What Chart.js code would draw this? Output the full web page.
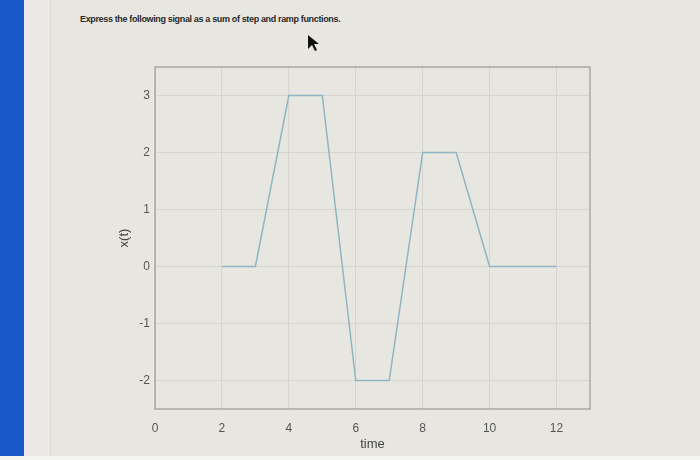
<!DOCTYPE html>
<html>
<head>
<meta charset="utf-8">
<script src="https://cdn.jsdelivr.net/npm/chart.js@4/dist/chart.umd.min.js"></script>
<style>
  html, body { margin: 0; padding: 0; }
  body { width: 700px; height: 460px; position: relative; overflow: hidden; background: #e8e6e1; }
  #bluebar { position: absolute; left: 0; top: 0; width: 24px; height: 460px; background: #1758c6; }
  #edge { position: absolute; left: 24px; top: 0; width: 26px; height: 460px; background: #eae9e5; border-right: 1px solid #dcdad5; }
  #bottom { position: absolute; left: 0; top: 456px; width: 700px; height: 4px; background: #f4f4f2; }
  #title { position: absolute; left: 80px; top: 14px; font: 600 9px "Liberation Sans", Arial, sans-serif; color: #2a2a2a; letter-spacing: -0.35px; }
  #cursor { position: absolute; left: 306px; top: 34px; }
  #wrap { position: absolute; left: 0; top: 0; width: 700px; height: 460px; }
</style>
</head>
<body>
<div id="bluebar"></div>
<div id="edge"></div>
<div id="bottom"></div>
<div id="title">Express the following signal as a sum of step and ramp functions.</div>
<svg id="cursor" width="16" height="18"><polygon points="2,1 2,15 6,11 9,17 11,16 8,10 13,10" fill="#111"/></svg>
<div id="wrap"><canvas id="myChart"></canvas></div>
<script>
// signal x(t)
var time = [2, 3, 4, 5, 6, 7, 8, 9, 10, 12];
var signal = [0, 0, 3, 3, -2, -2, 2, 2, 0, 0];
var xTicks = [0, 2, 4, 6, 8, 10, 12];
var yTicks = [-2, -1, 0, 1, 2, 3];

var points = [];
for (var i in time) {
  points.push({x: time[i], y: signal[i]});
}

// box around the plot
var boxPlugin = {
  id: 'box',
  afterDraw: function(chart) {
    var a = chart.chartArea;
    var ctx = chart.ctx;
    ctx.save();
    ctx.strokeStyle = '#8a8a88';
    ctx.lineWidth = 1;
    ctx.strokeRect(a.left, a.top, a.right - a.left, a.bottom - a.top);
    ctx.restore();
  }
};

var tickFont = {family: '"Liberation Sans", Arial, sans-serif', size: 12};

var ctx = document.getElementById('myChart');
new Chart(ctx, {
  type: 'line',
  data: {
    datasets: [{
      data: points,
      borderColor: '#8fb5c4',
      borderWidth: 1.5,
      pointRadius: 0,
      fill: false,
      tension: 0
    }]
  },
  options: {
    responsive: true,
    maintainAspectRatio: false,
    animation: false,
    layout: {padding: {left: 100, right: 110, top: 67, bottom: 8}},
    plugins: {legend: {display: false}, tooltip: {enabled: false}},
    scales: {
      x: {
        type: 'linear',
        min: 0,
        max: 13,
        afterBuildTicks: function(scale) {
          scale.ticks = xTicks.map(function(v) { return {value: v}; });
        },
        afterFit: function(scale) { scale.height = 43; },
        grid: {color: '#d6d4cf', drawTicks: false},
        border: {display: false},
        ticks: {color: '#555', font: tickFont, padding: 12, maxRotation: 0},
        title: {display: true, text: 'time', color: '#444', font: {family: '"Liberation Sans", Arial, sans-serif', size: 13}, padding: {top: 0, bottom: 0}}
      },
      y: {
        type: 'linear',
        min: -2.5,
        max: 3.5,
        afterBuildTicks: function(scale) {
          scale.ticks = yTicks.map(function(v) { return {value: v}; });
        },
        afterFit: function(scale) { scale.width = 55; },
        grid: {color: '#d6d4cf', drawTicks: false},
        border: {display: false},
        ticks: {color: '#555', font: tickFont, padding: 5},
        title: {display: true, text: 'x(t)', color: '#444', font: {family: '"Liberation Sans", Arial, sans-serif', size: 13}, padding: {top: 17, bottom: 0}}
      }
    }
  },
  plugins: [boxPlugin]
});
</script>
</body>
</html>
